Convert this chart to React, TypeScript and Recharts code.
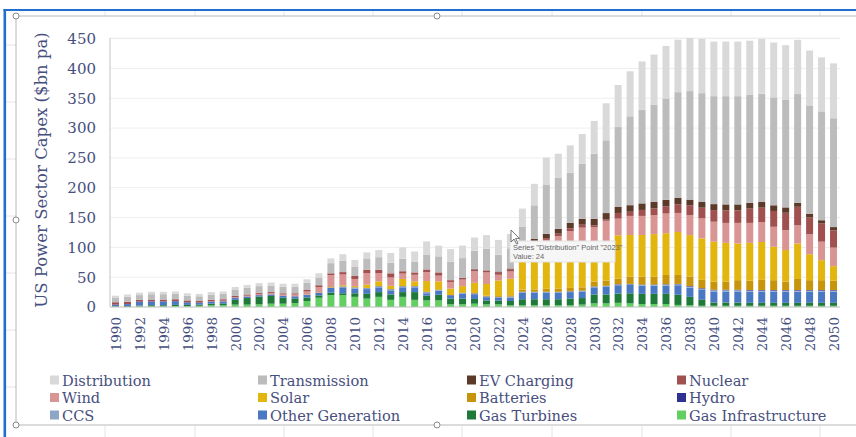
import { Bar, BarChart, CartesianGrid, XAxis, YAxis } from 'recharts'

// 1990 … 2050
const years = Array.from({ length: 61 }, (_, i) => 1990 + i)

const gasInfrastructure = [
  0.5, 0.5, 1, 1, 1, 1.5, 1.5, 2, 3, 3,
  4, 4, 4.5, 5.5, 5.5, 6.5, 10, 15.5, 20, 20,
  17, 14, 17, 12, 17, 12, 11, 11, 4.5, 4.5,
  5.5, 4.5, 4.5, 3, 3, 3, 3, 3, 3, 4,
  6, 6, 7, 6, 5, 5, 5, 3.5, 3, 2,
  2, 2, 2, 2, 2, 2, 2, 2, 2, 2,
  2,
]
const gasTurbines = [
  1, 1, 1.5, 2, 2, 2, 2, 2, 2.5, 3,
  8, 11, 13, 13, 10, 8, 6, 4, 4, 3,
  6, 8, 8, 9, 8, 13, 8, 9.5, 9.5, 9.5,
  8, 6.5, 6.5, 7, 10, 10, 10, 10, 11, 11,
  15, 15, 15.5, 17, 17, 17, 17, 17, 14, 10,
  5.5, 5.5, 5.5, 5, 5, 5, 5, 5, 5, 5,
  5,
]
const otherGeneration = [
  2, 3, 6, 6, 6, 6, 4, 3, 3, 3,
  3, 2, 2, 2, 3, 3, 4, 4, 8, 10,
  8, 8, 8, 7, 8, 8, 4, 7, 5.5, 8,
  8, 5.5, 4.5, 6, 11, 11, 11, 11, 11, 11,
  12, 13, 14, 14, 14, 14, 14, 16, 15.5, 16.5,
  18.5, 18.5, 18.5, 18.5, 18.5, 18.5, 18.5, 18.5, 18.5, 18.5,
  18.5,
]
const ccs = [
  0, 0, 0, 0, 0, 0, 0, 0, 0, 0,
  0, 0, 0, 0, 0, 0, 0, 0, 0, 1,
  1.5, 1.5, 1.5, 1.5, 1.5, 1.5, 2, 1, 0, 1.5,
  1, 1, 1, 1, 1, 1, 1, 1, 1, 1,
  1, 1, 1, 1, 1, 1, 1.5, 1.5, 1.5, 2,
  2, 2, 2, 2, 2, 2, 2, 2, 2, 2,
  2,
]
const hydro = [
  0.5, 0.5, 0.5, 0.5, 0.5, 0.5, 0.5, 0.5, 0.5, 0.5,
  0.5, 0.5, 0.5, 0.5, 0.5, 0.5, 0.5, 0.5, 0.5, 0.5,
  0.5, 0.5, 0.5, 0.5, 0.5, 0.5, 0.5, 0.5, 0.5, 0.5,
  0.5, 0.5, 0.5, 0.5, 0.5, 0.5, 0.5, 0.5, 0.5, 0.5,
  0.5, 0.5, 0.7, 0.7, 0.7, 0.7, 0.7, 0.7, 1, 1,
  1, 1, 1, 1, 1, 1, 1, 1, 1, 1,
  1,
]
const batteries = [
  0, 0, 0, 0, 0, 0, 0, 0, 0, 0,
  0, 0, 0, 0, 0, 0, 0, 0, 0, 0,
  0, 0, 0, 0, 0, 0, 0, 0, 0, 0,
  0.5, 1, 1.5, 2, 3.5, 4, 5, 5.5, 5.5, 5.5,
  8, 9, 9.5, 12, 13, 13, 15.5, 15, 16, 14,
  13.5, 13.5, 16, 15.5, 17, 16.5, 14, 18.5, 16.5, 16.5,
  15.5,
]
const solar = [
  0, 0, 0, 0, 0, 0, 0, 0, 0, 0,
  0, 0, 0, 0, 0, 0, 0.5, 0.5, 1, 2,
  2, 5.5, 8, 5.5, 12, 8, 18, 14, 11, 11,
  17, 19.5, 26, 28, 56, 60, 65, 68, 70, 72,
  65, 66, 72.5, 70, 70, 71.5, 70, 72, 69.5, 69.5,
  67, 65, 61.5, 63.5, 63.5, 56, 53, 59.5, 43.5, 33.5,
  24.5,
]
const wind = [
  0, 0, 0, 0, 0, 0, 0, 0, 0.5, 1,
  1, 1.5, 2, 2, 2, 3, 5, 9, 20, 18,
  12, 19.5, 14, 14, 9, 11, 15, 9.5, 11, 11,
  19.5, 19.5, 9.5, 12, 15, 18, 17, 20, 25, 28,
  26, 34, 28, 32, 32, 32, 33, 32, 33.5, 33.5,
  33.5, 33.5, 34.5, 33.5, 33.5, 33.5, 33.5, 30.5, 33.5, 31,
  31,
]
const nuclear = [
  4, 4, 3, 3, 3, 3, 3, 2.5, 2.5, 2.5,
  2, 2, 2, 2, 2, 2, 2.5, 3, 3, 4,
  5, 5.5, 5.5, 7, 4, 4, 4.5, 5.5, 3, 3,
  3, 3, 4.5, 4, 3, 3, 3, 4, 5, 5,
  3.5, 2, 9.5, 7, 10, 11, 12, 14.5, 16.5, 18,
  19.5, 21, 21, 24, 24, 26.5, 29, 31, 28, 30.5,
  29,
]
const evCharging = [
  0, 0, 0, 0, 0, 0, 0, 0, 0, 0,
  0, 0, 0, 0, 0, 0, 0, 0, 0, 0,
  0, 0, 0, 0, 0, 0, 0, 0, 0, 0,
  0.5, 0.5, 1, 1, 2, 4, 7, 8, 9, 10,
  11, 11, 10, 11, 11, 11, 11, 11, 9.5, 9.5,
  10, 10, 10, 9.5, 9.5, 9.5, 9, 6.5, 6.5, 5.5,
  5.5,
]
const transmission = [
  7, 8, 8, 9, 9, 9, 8, 8, 9, 9,
  10, 11, 11, 11, 11, 11, 12, 13, 17, 19,
  16, 18, 21, 18, 21, 18, 25, 27, 31, 33,
  31, 36, 28, 34, 30, 56, 83, 86, 84, 92,
  109, 122, 134, 149, 157, 163, 170, 177, 182, 182.5,
  181, 181.5, 181.5, 181, 181.5, 181, 181, 182.5, 181.5, 182.5,
  182.5,
]
const distribution = [
  4, 4, 4, 4, 4, 4, 4, 4, 4, 4,
  5, 5, 5, 5, 5, 5, 6, 7, 8, 11,
  11, 11, 12, 16, 19, 17, 22, 18, 21, 21,
  22, 23, 25, 24, 30, 36, 45, 40, 46, 50,
  55, 62, 70.5, 75.5, 81, 84, 88, 88, 89, 91,
  91.5, 91.5, 91.5, 91, 92, 92, 91, 91, 92, 90.5,
  92,
]

const yTicks = [0, 50, 100, 150, 200, 250, 300, 350, 400, 450]

// stacked bottom → top
const series = [
  { key: 'gasInfrastructure', name: 'Gas Infrastructure', color: '#62cf62', values: gasInfrastructure },
  { key: 'gasTurbines', name: 'Gas Turbines', color: '#1f7a3a', values: gasTurbines },
  { key: 'otherGeneration', name: 'Other Generation', color: '#4a78c2', values: otherGeneration },
  { key: 'ccs', name: 'CCS', color: '#8ea6c6', values: ccs },
  { key: 'hydro', name: 'Hydro', color: '#2e3092', values: hydro },
  { key: 'batteries', name: 'Batteries', color: '#c7950b', values: batteries },
  { key: 'solar', name: 'Solar', color: '#e2b50f', values: solar },
  { key: 'wind', name: 'Wind', color: '#d99594', values: wind },
  { key: 'nuclear', name: 'Nuclear', color: '#a0504f', values: nuclear },
  { key: 'evCharging', name: 'EV Charging', color: '#5b3a29', values: evCharging },
  { key: 'transmission', name: 'Transmission', color: '#bcbcbc', values: transmission },
  { key: 'distribution', name: 'Distribution', color: '#d9d9d9', values: distribution },
]

const rows = years.map((year, i) => {
  const row: Record<string, number> = { year }
  series.forEach((s) => {
    row[s.key] = s.values[i]
  })
  return row
})

const TEXT = '#474f7e'
const FONT = '"DejaVu Serif", Georgia, serif'

// legend reads top-down, four columns
const legendOrder = [...series].reverse()
const legendCols = [50, 258, 467, 677]
const legendRows = [380, 397.5, 415]

function YearTick({ x, y, payload }: any) {
  return (
    <text
      x={x}
      y={y}
      transform={`rotate(-90 ${x} ${y})`}
      textAnchor="end"
      dy="0.36em"
      fill={TEXT}
      fontSize={13.5}
      fontFamily={FONT}
    >
      {payload.value}
    </text>
  )
}

function SheetFrame() {
  const cols = [105, 195, 284, 373, 462, 552, 642, 731, 820]
  const rowsY = [45, 102, 159, 216, 273, 330, 387]
  return (
    <svg width={856} height={437} style={{ position: 'absolute', left: 0, top: 0 }}>
      {cols.map((cx) => (
        <g key={cx}>
          <line x1={cx} y1={11} x2={cx} y2={16} stroke="#e4e4e4" />
          <line x1={cx} y1={426} x2={cx} y2={437} stroke="#e4e4e4" />
        </g>
      ))}
      {rowsY.map((ry) => (
        <line key={ry} x1={6} y1={ry} x2={16} y2={ry} stroke="#e4e4e4" />
      ))}
      <rect x={3.5} y={9} width={2.6} height={428} fill="#1f6fd1" />
      <rect x={3.5} y={9} width={852.5} height={2} fill="#1f6fd1" />
      <line x1={16} y1={16} x2={856} y2={16} stroke="#b8b8b8" />
      <line x1={16} y1={16} x2={16} y2={425} stroke="#b8b8b8" />
      <line x1={16} y1={425} x2={856} y2={425} stroke="#b8b8b8" />
      {[
        [16, 16],
        [437, 16],
        [16, 220],
        [16, 425],
        [437, 425],
      ].map(([hx, hy]) => (
        <circle key={`${hx}-${hy}`} cx={hx} cy={hy} r={3} fill="#fff" stroke="#8a8a8a" />
      ))}
    </svg>
  )
}

export default function App() {
  return (
    <div
      style={{
        position: 'relative',
        width: 856,
        height: 437,
        background: '#fff',
        overflow: 'hidden',
        fontFamily: FONT,
      }}
    >
      <style>{'body{margin:0}'}</style>
      <SheetFrame />

      <div style={{ position: 'absolute', left: 0, top: 0 }}>
        <BarChart
          width={856}
          height={437}
          data={rows}
          margin={{ top: 38, right: 16, bottom: 80, left: 50 }}
          barSize={7}
        >
          <CartesianGrid vertical={false} stroke="#eeeeee" />
          <XAxis
            dataKey="year"
            interval={1}
            height={50}
            tickSize={0}
            tickMargin={10}
            tickLine={false}
            axisLine={{ stroke: '#c4c4c4' }}
            tick={<YearTick />}
          />
          <YAxis
            domain={[0, 450]}
            ticks={yTicks}
            width={60}
            tickSize={0}
            tickMargin={14}
            tickLine={false}
            axisLine={{ stroke: '#c4c4c4' }}
            tick={{ fill: TEXT, fontSize: 15, fontFamily: FONT }}
          />
          {series.map((s) => (
            <Bar
              key={s.key}
              dataKey={s.key}
              name={s.name}
              stackId="capex"
              fill={s.color}
              isAnimationActive={false}
            />
          ))}
        </BarChart>
      </div>

      <svg width={856} height={437} style={{ position: 'absolute', left: 0, top: 0, pointerEvents: 'none' }}>
        <text
          x={41}
          y={170}
          transform="rotate(-90 41 170)"
          textAnchor="middle"
          dominantBaseline="central"
          fill={TEXT}
          fontSize={16.5}
          fontFamily={FONT}
        >
          US Power Sector Capex ($bn pa)
        </text>

        {legendOrder.map((s, i) => {
          const lx = legendCols[i % 4]
          const ly = legendRows[Math.floor(i / 4)]
          return (
            <g key={s.key}>
              <rect x={lx} y={ly - 4.5} width={9} height={9} fill={s.color} />
              <text x={lx + 12} y={ly} dominantBaseline="central" fill={TEXT} fontSize={14.6} fontFamily={FONT}>
                {s.name}
              </text>
            </g>
          )
        })}

        {/* hover hint over the 2023 distribution segment */}
        <rect x={510} y={241} width={105} height={21} fill="#f6f6f6" stroke="#e2e2e2" />
        <text x={513} y={247} dominantBaseline="central" fill="#666" fontSize={7.5} fontFamily="Liberation Sans, sans-serif">
          Series "Distribution" Point "2023"
        </text>
        <text x={513} y={256.5} dominantBaseline="central" fill="#666" fontSize={7.5} fontFamily="Liberation Sans, sans-serif">
          Value: 24
        </text>
        <path d="M511 230 L511 242 L514 239 L516.5 244 L518 243.3 L515.6 238.4 L519.5 238.4 Z" fill="#fff" stroke="#555" strokeWidth={0.8} />
      </svg>
    </div>
  )
}
